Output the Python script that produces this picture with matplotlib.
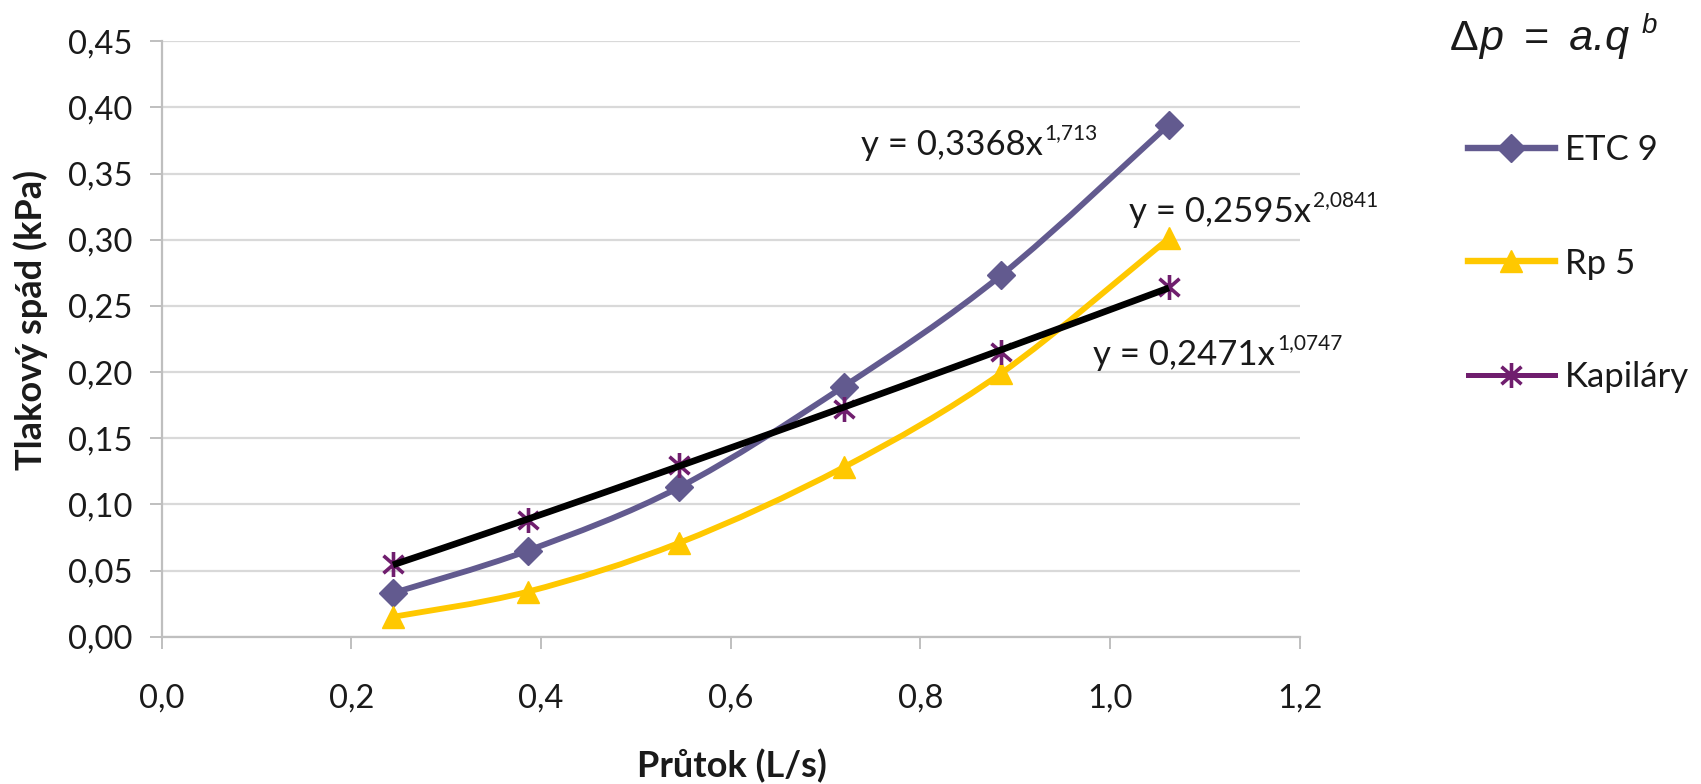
import numpy as np
import matplotlib
matplotlib.use('Agg')
import matplotlib.pyplot as plt
from matplotlib.path import Path
from matplotlib.patches import PathPatch
from matplotlib.lines import Line2D
from matplotlib.ticker import FuncFormatter, FixedLocator

# ---------------- data ----------------
flow = [0.244, 0.386, 0.546, 0.719, 0.885, 1.062]          # Průtok (L/s)
etc9 = [0.033, 0.065, 0.113, 0.189, 0.273, 0.387]          # ETC 9
rp5 = [0.015, 0.034, 0.071, 0.128, 0.199, 0.301]           # Rp 5
kapilary = [0.055, 0.088, 0.130, 0.172, 0.215, 0.264]      # Kapiláry
series_names = ['ETC 9', 'Rp 5', 'Kapiláry']
fit_a = [0.3368, 0.2595, 0.2471]
fit_b = [1.713, 2.0841, 1.0747]
eq_coef_text = ['0,3368', '0,2595', '0,2471']
eq_exp_text = ['1,713', '2,0841', '1,0747']
x_ticks = [0.0, 0.2, 0.4, 0.6, 0.8, 1.0, 1.2]
y_ticks = [0.00, 0.05, 0.10, 0.15, 0.20, 0.25, 0.30, 0.35, 0.40, 0.45]
x_label = 'Průtok (L/s)'
y_label = 'Tlakový spád (kPa)'

# ---------------- style ----------------
plt.rcParams['font.family'] = ['Lato', 'DejaVu Sans']
C_ETC = '#625A8F'
C_RP = '#FFC800'
C_KAP = '#701E6E'
C_GRID = '#D9D9D9'
C_AXIS = '#BFBFBF'
C_TXT = '#1a1a1a'
W, H = 1701, 784

fig = plt.figure(figsize=(W / 100, H / 100), dpi=100)
x0, x1, yb, yt = 161.5, 1299.8, 636.7, 41.2
ax = fig.add_axes([x0 / W, 1 - yb / H, (x1 - x0) / W, (yb - yt) / H])
ax.set_xlim(0, 1.2)
ax.set_ylim(0, 0.45)

# asterisk marker (vertical bar + X)
star = Path([(0, -1), (0, 1), (-0.8, -0.7), (0.8, 0.7), (-0.8, 0.7), (0.8, -0.7)],
            [Path.MOVETO, Path.LINETO, Path.MOVETO, Path.LINETO, Path.MOVETO, Path.LINETO])


def smooth_path(xs, ys):
    pts = np.column_stack([xs, ys])
    n = len(pts)
    verts = [tuple(pts[0])]
    codes = [Path.MOVETO]
    for i in range(n - 1):
        p0 = pts[max(i - 1, 0)]
        p1 = pts[i]
        p2 = pts[i + 1]
        p3 = pts[min(i + 2, n - 1)]
        c1 = p1 + (p2 - p0) / 6.0
        c2 = p2 - (p3 - p1) / 6.0
        verts += [tuple(c1), tuple(c2), tuple(p2)]
        codes += [Path.CURVE4] * 3
    return Path(verts, codes)


LW = 4.2
MS_D, MS_T, MS_S = 14, 16, 18

# grid
ax.yaxis.grid(True, color=C_GRID, lw=1.6)
ax.xaxis.grid(False)
ax.set_axisbelow(True)

# ETC 9 smoothed line
ax.add_patch(PathPatch(smooth_path(flow, etc9), fill=False, ec=C_ETC, lw=LW,
                       capstyle='round', joinstyle='round', zorder=3))
ax.plot(flow, etc9, ls='none', marker='D', ms=MS_D, mfc=C_ETC, mec=C_ETC, zorder=4)

# Rp 5 smoothed line
ax.add_patch(PathPatch(smooth_path(flow, rp5), fill=False, ec=C_RP, lw=LW,
                       capstyle='round', joinstyle='round', zorder=3))
ax.plot(flow, rp5, ls='none', marker='^', ms=MS_T, mfc=C_RP, mec=C_RP, zorder=4)

# Kapiláry markers
ax.plot(flow, kapilary, ls='none', marker=star, ms=MS_S, mec=C_KAP, mew=2.6, zorder=5)

# power trend line for Kapiláry
xs = np.linspace(flow[0], flow[-1], 200)
ax.plot(xs, fit_a[2] * xs ** fit_b[2], color='black', lw=4.8, solid_capstyle='butt', zorder=6)

# axes styling
for s in ['top', 'right']:
    ax.spines[s].set_visible(False)
for s in ['left', 'bottom']:
    ax.spines[s].set_color(C_AXIS)
    ax.spines[s].set_linewidth(1.6)
ax.xaxis.set_major_locator(FixedLocator(x_ticks))
ax.yaxis.set_major_locator(FixedLocator(y_ticks))
ax.xaxis.set_major_formatter(FuncFormatter(lambda v, p: f'{v:.1f}'.replace('.', ',')))
ax.yaxis.set_major_formatter(FuncFormatter(lambda v, p: f'{v:.2f}'.replace('.', ',')))
ax.tick_params(axis='both', direction='out', length=8.3, width=1.4, color=C_AXIS,
               labelsize=23.5, labelcolor=C_TXT)
ax.tick_params(axis='y', pad=12.5)
ax.tick_params(axis='x', pad=25.5)

# axis titles
fig.text(731.5 / W, 1 - 777 / H, x_label, fontsize=26, fontweight='bold', color=C_TXT,
         ha='center', va='baseline')
ax.set_ylabel(y_label, fontsize=26, fontweight='bold', color=C_TXT)
ax.yaxis.set_label_coords(-0.0995, 0.532)

# equations
eq_pos = [(860.7, 155), (1128.6, 221.7), (1092.9, 365)]
for (px, py), c, e in zip(eq_pos, eq_coef_text, eq_exp_text):
    t = fig.text(px / W, 1 - py / H, f'y = {c}x', fontsize=25, color=C_TXT,
                 ha='left', va='baseline')
    ax.annotate(e, xy=(1, 0), xycoords=t, xytext=(1.5, 13), textcoords='offset points',
                fontsize=15, color=C_TXT, ha='left', va='bottom', annotation_clip=False)

# formula top right
tD = fig.text(1450 / W, 1 - 50 / H, 'Δ', fontsize=31, family='Liberation Sans',
              ha='left', va='baseline', color=C_TXT)
tP = ax.annotate('p\u2009 = \u2009a.q', xy=(1, 0), xycoords=tD, xytext=(0, 0),
                 textcoords='offset points', fontsize=31, family='Liberation Sans',
                 style='italic', ha='left', va='bottom', color=C_TXT, annotation_clip=False)
ax.annotate('b', xy=(1, 0), xycoords=tP, xytext=(9, 14.5), textcoords='offset points',
            fontsize=20, family='Liberation Sans', style='italic', ha='left', va='bottom',
            color=C_TXT, annotation_clip=False)

# legend
handles = [
    Line2D([], [], color=C_ETC, lw=4.6, marker='D', ms=MS_D, mfc=C_ETC, mec=C_ETC),
    Line2D([], [], color=C_RP, lw=4.6, marker='^', ms=MS_T, mfc=C_RP, mec=C_RP),
    Line2D([], [], color=C_KAP, lw=3.6, marker=star, ms=MS_S, mec=C_KAP, mew=2.6),
]
fig.legend(handles, series_names, loc='upper left', bbox_to_anchor=(1468 / W, 1 - 134 / H),
           frameon=False, fontsize=25, numpoints=1, handlelength=2.5, handletextpad=0.3,
           labelspacing=2.35, borderpad=0, borderaxespad=0, labelcolor=C_TXT)

fig.savefig('out.png', dpi=100)
